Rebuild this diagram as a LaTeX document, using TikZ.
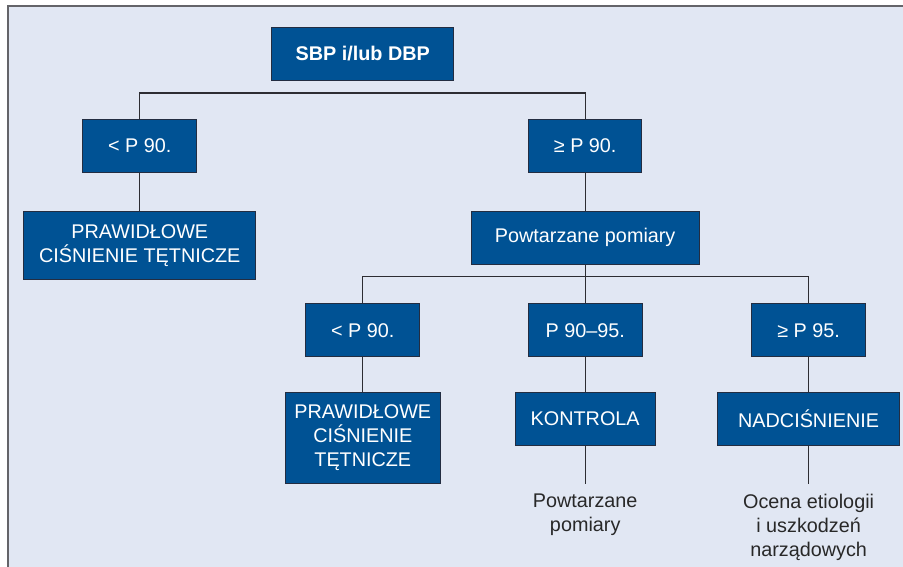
\documentclass[tikz,border=0pt]{standalone}
\usepackage{fontspec}
\setmainfont{Liberation Sans}
\definecolor{boxblue}{RGB}{0,82,148}
\definecolor{boxline}{RGB}{35,45,65}
\definecolor{bgblue}{RGB}{225,231,243}
\definecolor{framegrey}{RGB}{100,100,105}
\definecolor{linegrey}{RGB}{45,45,50}
\definecolor{textgrey}{RGB}{40,40,40}
\begin{document}
\begin{tikzpicture}[x=1pt, y=-1pt,
    main/.style = {draw=boxline, fill=boxblue, text=white, line width=1pt, inner sep=0pt,
                   minimum height=53pt, align=center, font=\fontsize{19.8}{24}\selectfont},
    note/.style = {text=textgrey, inner sep=0pt, anchor=north, align=center,
                   font=\fontsize{19.8}{24}\selectfont},
    link/.style = {draw=linegrey, line width=1.2pt}]
    % frame
    \useasboundingbox (0,0) rectangle (903,567);
    \fill[bgblue] (8,6) rectangle (912,572);
    \draw[framegrey, line width=1.8pt] (8,572) -- (8,6) -- (912,6);
    % first level
    \node[main, minimum width=182pt, font=\fontsize{19.8}{24}\selectfont\bfseries] (sbp) at (362.7,54) {SBP i/lub DBP};
    \node[main, minimum width=114pt] (lt1) at (139.8,146) {< P 90.};
    \node[main, minimum width=113pt] (ge1) at (585.2,146) {≥ P 90.};
    \node[main, minimum width=232pt, minimum height=68pt] (praw1) at (139.8,245.3) {PRAWIDŁOWE\\CIŚNIENIE TĘTNICZE};
    \node[main, minimum width=228pt] (powt) at (585.2,237.7) {Powtarzane pomiary};
    % second level
    \node[main, minimum width=114pt] (lt2) at (362.8,330.2) {< P 90.};
    \node[main, minimum width=114pt] (mid) at (585.2,330.2) {P 90–95.};
    \node[main, minimum width=114pt] (ge2) at (808.6,330.2) {≥ P 95.};
    \node[main, minimum width=155pt, minimum height=91pt] (praw2) at (362.8,437.7) {PRAWIDŁOWE\\CIŚNIENIE\\TĘTNICZE};
    \node[main, minimum width=140pt] (kontr) at (585.2,418.7) {KONTROLA};
    \node[main, minimum width=182pt] (nadc) at (808.6,418.7) {NADCIŚNIENIE};
    \node[note] (ptxt) at (585.2,494) {Powtarzane\\pomiary};
    \node[note] (otxt) at (808.6,494) {Ocena etiologii\\i uszkodzeń\\narządowych};
    % connectors
    \coordinate (bar1) at (362.7,93);
    \coordinate (bar2) at (585.2,276.3);
    \draw[link] (lt1.north) |- (bar1) -| (ge1.north);
    \draw[link] (lt1.south) -- (praw1.north);
    \draw[link] (ge1.south) -- (powt.north);
    \draw[link] (lt2.north) |- (bar2) -| (ge2.north);
    \draw[link] (powt.south) -- (mid.north);
    \draw[link] (lt2.south) -- (praw2.north);
    \draw[link] (mid.south) -- (kontr.north);
    \draw[link] (ge2.south) -- (nadc.north);
    \draw[link, shorten >=10pt] (kontr.south) -- (ptxt.north);
    \draw[link, shorten >=10pt] (nadc.south) -- (otxt.north);
\end{tikzpicture}
\end{document}
